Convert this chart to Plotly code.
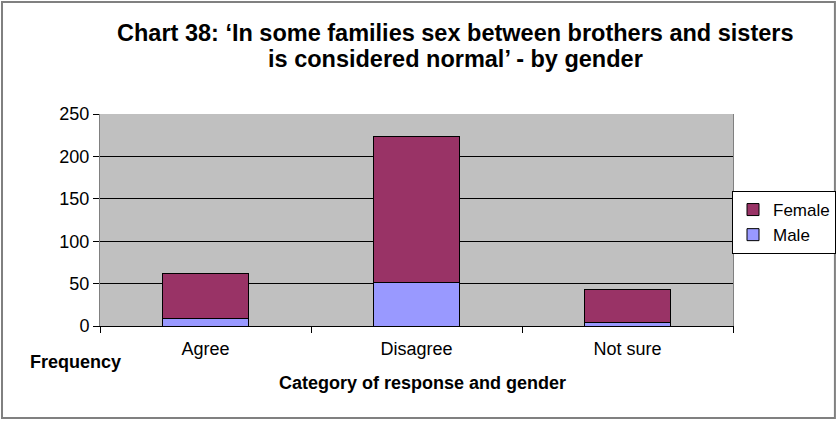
import plotly.graph_objects as go

categories = ["Agree", "Disagree", "Not sure"]
male = [9, 51, 4]
female = [53, 173, 39]
y_ticks = [0, 50, 100, 150, 200, 250]
title_lines = ["Chart 38: ‘In some families sex between brothers and sisters",
               "is considered normal’ - by gender"]

fig = go.Figure()
fig.add_trace(go.Bar(x=categories, y=male, name="Male",
                     marker=dict(color="#9999FF", line=dict(color="#000000", width=1))))
fig.add_trace(go.Bar(x=categories, y=female, name="Female",
                     marker=dict(color="#993366", line=dict(color="#000000", width=1))))

ann = [
    dict(text="<b>%s</b>" % title_lines[0], xref="paper", yref="paper", x=0.561, y=1.382,
         xanchor="center", yanchor="middle", showarrow=False, font=dict(size=23.5)),
    dict(text="<b>%s</b>" % title_lines[1], xref="paper", yref="paper", x=0.561, y=1.259,
         xanchor="center", yanchor="middle", showarrow=False, font=dict(size=23.5)),
    dict(text="<b>Frequency</b>", xref="paper", yref="paper", x=-0.1137, y=-0.17,
         xanchor="left", yanchor="middle", showarrow=False, font=dict(size=18)),
    dict(text="<b>Category of response and gender</b>", xref="paper", yref="paper",
         x=0.5095, y=-0.269, xanchor="center", yanchor="middle", showarrow=False,
         font=dict(size=18)),
]

fig.update_layout(
    width=837, height=421,
    margin=dict(l=100, r=104, t=114, b=95, autoexpand=False),
    barmode="stack", bargap=0.59,
    paper_bgcolor="white", plot_bgcolor="#C0C0C0",
    font=dict(family="Liberation Sans, Arial, sans-serif", size=18, color="black"),
    legend=dict(xref="container", yref="container", x=836 / 837, xanchor="right",
                y=1 - 191 / 421, yanchor="top",
                traceorder="reversed", bordercolor="black", borderwidth=1,
                font=dict(size=17), itemwidth=30, tracegroupgap=0),
    showlegend=True,
    shapes=[dict(type="rect", xref="paper", yref="paper",
                 x0=-0.1548, x1=1.161, y0=-0.434, y1=1.528,
                 line=dict(color="#808080", width=2), layer="below")],
    annotations=ann,
)
fig.update_xaxes(showline=True, linecolor="#000000", linewidth=1,
                 ticks="outside", tickson="boundaries", ticklen=6, tickcolor="black",
                 tickfont=dict(size=18), ticklabelstandoff=6, showgrid=False)
fig.update_yaxes(range=[0, 250], tickvals=y_ticks, showline=True, linecolor="#808080",
                 linewidth=1, mirror=True,
                 ticks="outside", ticklen=6, tickcolor="black",
                 gridcolor="#000000", gridwidth=1, tickfont=dict(size=18), zeroline=False)

fig.write_html("out.html", config={"displayModeBar": False},
               post_script="document.body.style.margin='0';")
